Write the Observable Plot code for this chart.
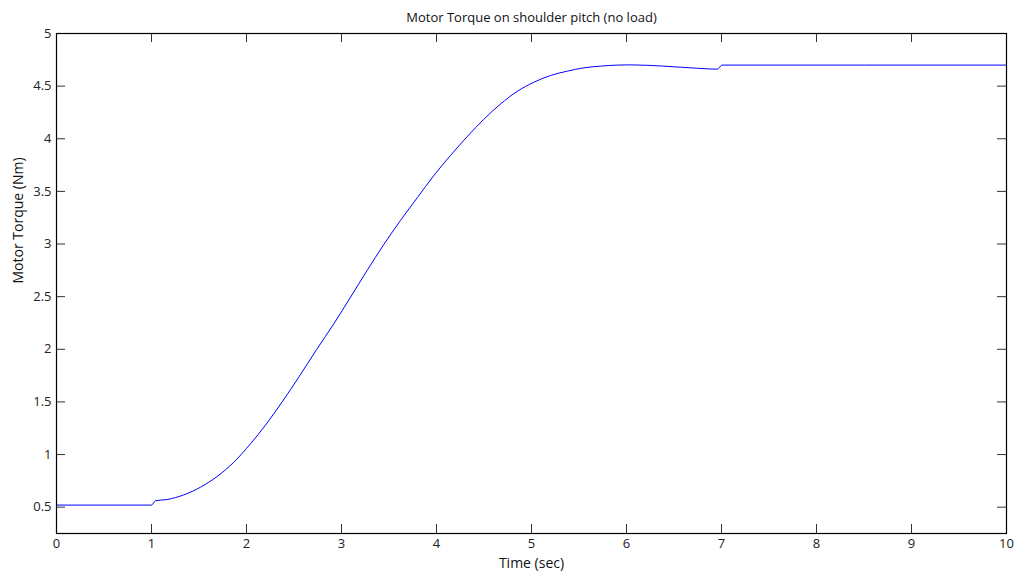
<!DOCTYPE html>
<html>
<head>
<meta charset="utf-8">
<script src="https://cdn.jsdelivr.net/npm/d3@7"></script>
<script src="https://cdn.jsdelivr.net/npm/@observablehq/plot@0.6"></script>
<style>
  html, body { margin: 0; padding: 0; background: #fff; }
</style>
</head>
<body>
<div id="chart"></div>
<script>
const title = "Motor Torque on shoulder pitch (no load)";
const xLabel = "Time (sec)";
const yLabel = "Motor Torque (Nm)";
const xTicks = [0, 1, 2, 3, 4, 5, 6, 7, 8, 9, 10];
const yTicks = [0.5, 1, 1.5, 2, 2.5, 3, 3.5, 4, 4.5, 5];
const yTickLabels = ["0.5", "1", "1.5", "2", "2.5", "3", "3.5", "4", "4.5", "5"];

const time = [0, 1.0, 1.042, 1.165, 1.34, 1.516, 1.691, 1.866, 2.042, 2.2, 2.375, 2.55, 2.74,
  2.919, 3.095, 3.27, 3.445, 3.621, 3.797, 3.972, 4.147, 4.323, 4.498, 4.674, 4.849, 5.025,
  5.2, 5.376, 5.551, 5.726, 5.902, 6.04, 6.39, 6.74, 6.954, 7.007, 10];
const torque = [0.52, 0.52, 0.561, 0.573, 0.617, 0.690, 0.792, 0.927, 1.102, 1.28, 1.50, 1.735, 2.0,
  2.242, 2.495, 2.749, 2.995, 3.224, 3.439, 3.651, 3.841, 4.02, 4.185, 4.33, 4.45, 4.537,
  4.601, 4.642, 4.674, 4.69, 4.70, 4.702, 4.69, 4.67, 4.661, 4.70, 4.70];

const data = time.map((t, i) => ({t, v: torque[i]}));

const W = 1019, H = 575;
const mL = 56, mR = 13, mT = 33, mB = 42;
const pw = W - mL - mR, ph = H - mT - mB;
const tl = 9;
const font = "'Open Sans', 'DejaVu Sans', sans-serif";

const chart = Plot.plot({
  width: W,
  height: H,
  marginLeft: mL,
  marginRight: mR,
  marginTop: mT,
  marginBottom: mB,
  style: {fontFamily: font, fontSize: "13px", color: "#000", background: "#fff"},
  x: {domain: [0, 10]},
  y: {domain: [0.25, 5]},
  marks: [
    Plot.axisX({ticks: xTicks, tickSize: 0, tickPadding: 5, label: null, fill: "#222"}),
    Plot.axisY({ticks: yTicks, tickSize: 0, tickPadding: 5, label: null, fill: "#222",
      tickFormat: d => yTickLabels[yTicks.indexOf(d)]}),
    Plot.tickX(xTicks, {x: d => d, stroke: "#333", strokeWidth: 1, insetTop: ph - tl}),
    Plot.tickX(xTicks, {x: d => d, stroke: "#333", strokeWidth: 1, insetBottom: ph - tl}),
    Plot.tickY(yTicks, {y: d => d, stroke: "#333", strokeWidth: 1, insetRight: pw - tl}),
    Plot.tickY(yTicks, {y: d => d, stroke: "#333", strokeWidth: 1, insetLeft: pw - tl}),
    Plot.line(data, {x: "t", y: "v", stroke: "#0000ff", strokeWidth: 1, curve: "monotone-x"}),
    Plot.frame({stroke: "#000", strokeWidth: 1.2}),
    Plot.text([title], {text: d => d, frameAnchor: "top", dy: -21, fontSize: 13, fill: "#111"}),
    Plot.text([xLabel], {text: d => d, frameAnchor: "bottom", dy: 30, lineAnchor: "middle", fontSize: 14, fill: "#111"}),
    Plot.text([yLabel], {text: d => d, frameAnchor: "left", dx: -38, rotate: -90, fontSize: 14, fill: "#111"})
  ]
});
document.getElementById("chart").appendChild(chart);
</script>
</body>
</html>
